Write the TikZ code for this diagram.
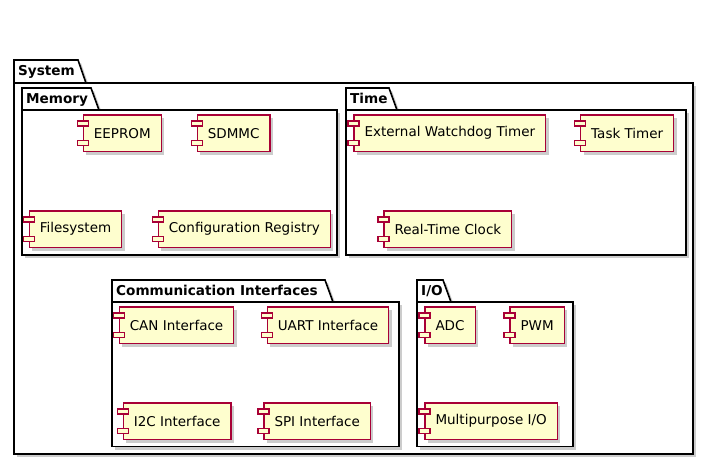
\documentclass[tikz,border=0pt]{standalone}
\usepackage{fontspec}
\setmainfont{DejaVu Sans}
\usetikzlibrary{shadows}
\definecolor{compfill}{HTML}{FEFECE}
\definecolor{compline}{HTML}{A80036}
\tikzset{
 comp/.style={draw=compline, fill=compfill, line width=1.1pt, minimum height=36.5pt,
   inner xsep=10.5pt, inner ysep=0pt, outer sep=0pt, font=\fontsize{13.5}{16}\selectfont,
   drop shadow={shadow xshift=3pt, shadow yshift=-3pt, fill=black, opacity=0.2}},
 compbar/.style={draw=compline, fill=compfill, line width=1.1pt},
 pkg/.style={draw=black, fill=white, line width=1.6pt, line join=miter},
 pkgshadow/.style={fill=black, opacity=0.2},
 pkglabel/.style={font=\bfseries\fontsize{13.6}{16}\selectfont, anchor=base west, inner sep=0pt},
}
\newcommand\mycomp[4]{%
 \node[comp, anchor=north west] (#1) at (#2,#3) {#4};
 \draw[compbar] ([xshift=-6pt,yshift=-6pt]#1.north west) rectangle ++(11,5);
 \draw[compbar] ([xshift=-6pt,yshift=6pt]#1.south west) rectangle ++(11,-5);
}
\newcommand\mypkg[8]{%
 \fill[pkgshadow,shift={(3,3)}] (#3,#6) -- (#3,#4) -- (#5,#4) -- (#5+8,#6) -- cycle;
 \fill[pkgshadow,shift={(3,3)}] (#3,#6) rectangle (#7,#8);
 \draw[pkg] (#3,#6) rectangle (#7,#8);
 \draw[pkg] (#3,#6) -- (#3,#4) -- (#5,#4) -- (#5+8,#6) -- cycle;
 \node[pkglabel] (#1) at (#3+4,#4+15.5) {#2};
}
\begin{document}
\begin{tikzpicture}[x=1pt,y=-1pt]
\useasboundingbox[fill=white] (0,0) rectangle (714,466);
% packages
\mypkg{system}{System}{14}{60}{78}{83}{693}{454}
\mypkg{memory}{Memory}{22}{88}{91}{110}{337}{255}
\mypkg{time}{Time}{346}{88}{389}{110}{686}{255}
\mypkg{comm}{Communication Interfaces}{112}{280}{325}{302}{399}{446.5}
\mypkg{io}{I/O}{417}{280}{443}{302}{573}{446.5}
% Memory
\mycomp{eeprom}{83.3}{115}{EEPROM}
\mycomp{sdmmc}{197.3}{115}{SDMMC}
\mycomp{fs}{29.3}{211}{Filesystem}
\mycomp{cfg}{158.3}{211}{Configuration Registry}
% Time
\mycomp{wdt}{354}{115}{External Watchdog Timer}
\mycomp{task}{580.7}{115}{Task Timer}
\mycomp{rtc}{384}{211}{Real-Time Clock}
% Communication
\mycomp{can}{119.3}{307}{CAN Interface}
\mycomp{uart}{267.3}{307}{UART Interface}
\mycomp{i2c}{123.3}{403}{I2C Interface}
\mycomp{spi}{264}{403}{SPI Interface}
% I/O
\mycomp{adc}{425}{307}{ADC}
\mycomp{pwm}{510}{307}{PWM}
\mycomp{mio}{425}{403}{Multipurpose I/O}
\end{tikzpicture}
\end{document}
